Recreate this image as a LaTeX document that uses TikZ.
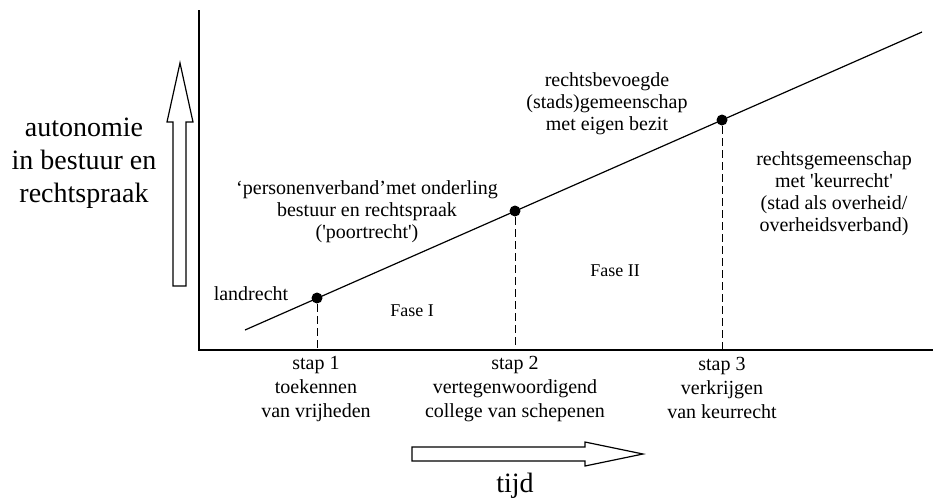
\documentclass[tikz,border=0pt]{standalone}
\usepackage{fontspec}
\setmainfont{Liberation Serif}
\newcommand{\sq}{\textquotesingle}

\begin{document}
\begin{tikzpicture}[x=0.5pt,y=-0.5pt,line width=0.6pt,
  lbl/.style={align=center,font=\fontsize{10}{11}\selectfont},
  stap/.style={align=center,font=\fontsize{10}{12}\selectfont},
  groot/.style={align=center,font=\fontsize{14}{16.5}\selectfont},
  punt/.style={circle,fill,inner sep=0pt,minimum size=5.5pt},
  stip/.style={dash pattern=on 4pt off 2pt,line width=0.5pt}]
\useasboundingbox (0,0) rectangle (933,500);
% assen
\coordinate (o) at (199,350);
\coordinate (ytop) at (199,10);
\coordinate (xend) at (933,350);
\draw (ytop) -- (o) -- (xend);
% ontwikkeling
\coordinate (begin) at (245,330);
\coordinate (eind) at (922,32);
\draw (begin) -- (eind);
\node [punt] (p1) at (317,298) {};
\node [punt] (p2) at (515,211) {};
\node [punt] (p3) at (722,120) {};
\draw [stip] (p1) -- (p1 |- o);
\draw [stip] (p2) -- (p2 |- o);
\draw [stip] (p3) -- (p3 |- o);
% teksten
\node [lbl] (land) at (251,294) {landrecht};
\node [lbl] (pers) at (367,212) {‘personenverband’met onderling\\bestuur en rechtspraak\\(\sq poortrecht\sq)};
\node [lbl] (bev) at (607,104) {rechtsbevoegde\\(stads)gemeenschap\\met eigen bezit};
\node [lbl] (keur) at (834,194) {rechtsgemeenschap\\met \sq keurrecht\sq\\(stad als overheid/\\overheidsverband)};
\node [font=\fontsize{9}{11}\selectfont] (f1) at (412,311) {Fase I};
\node [font=\fontsize{9}{11}\selectfont] (f2) at (615,271) {Fase II};
\node [stap] (s1) at (316,389) {stap 1\\toekennen\\van vrijheden};
\node [stap] (s2) at (515,389) {stap 2\\vertegenwoordigend\\college van schepenen};
\node [stap] (s3) at (722,388) {stap 3\\verkrijgen\\van keurrecht};
\node [groot] (auto) at (84,163) {autonomie\\in bestuur en\\rechtspraak};
\node [groot] (tijd) at (515,486) {tijd};
% pijlen
\draw (173,286) -- (186,286) -- (186,122) -- (193,122) -- (180,63) -- (167,122) -- (173,122) -- cycle;
\draw (412,447) -- (585,447) -- (585,442) -- (643,454) -- (585,466) -- (585,461) -- (412,461) -- cycle;
\end{tikzpicture}
\end{document}
